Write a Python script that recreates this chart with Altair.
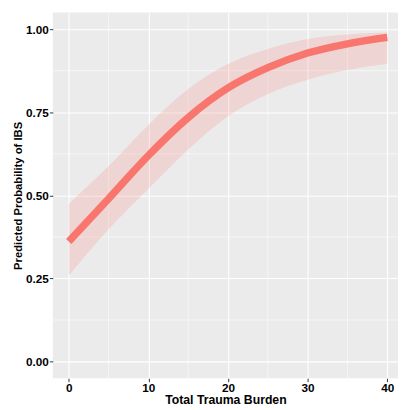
import altair as alt
import pandas as pd

# Values
trauma = [0, 5, 10, 15, 20, 25, 30, 35, 40]
prob_fit = [0.361, 0.490, 0.620, 0.734, 0.823, 0.884, 0.928, 0.956, 0.975]
prob_lower = [0.258, 0.398, 0.520, 0.638, 0.738, 0.805, 0.848, 0.877, 0.896]
prob_upper = [0.474, 0.588, 0.712, 0.820, 0.895, 0.940, 0.970, 0.984, 0.990]

x_major = [0, 10, 20, 30, 40]
x_minor = [5, 15, 25, 35]
y_major = [0.0, 0.25, 0.5, 0.75, 1.0]
y_minor = [0.125, 0.375, 0.625, 0.875]

df = pd.DataFrame({"x": trauma, "fit": prob_fit, "lo": prob_lower, "hi": prob_upper})

FONT = "Liberation Sans"
SALMON = "#F8766D"

xs = alt.Scale(domain=[-2, 41.35], nice=False, zero=False)
ys = alt.Scale(domain=[-0.05, 1.05], nice=False, zero=False)

x_axis = alt.Axis(
    values=x_major, grid=True, gridColor="white", gridWidth=1.1,
    domain=False, tickColor="#333333", tickSize=3.5, tickWidth=1,
    labelFont=FONT, labelFontSize=12, labelFontWeight="bold", labelColor="black",
    labelPadding=1.5, title="Total Trauma Burden", titleFont=FONT,
    titleFontSize=12.5, titleFontWeight="bold", titleColor="black", titlePadding=0,
)
y_axis = alt.Axis(
    values=y_major, format=".2f", grid=True, gridColor="white", gridWidth=1.1,
    domain=False, tickColor="#333333", tickSize=3.5, tickWidth=1,
    labelFont=FONT, labelFontSize=12, labelFontWeight="bold", labelColor="black",
    labelPadding=1, title="Predicted Probability of IBS", titleFont=FONT,
    titleFontSize=11.5, titleFontWeight="bold", titleColor="black", titlePadding=2.5,
)

minor_v = alt.Chart(pd.DataFrame({"x": x_minor})).mark_rule(
    color="white", strokeWidth=0.55
).encode(x=alt.X("x:Q", scale=xs, axis=x_axis))

minor_h = alt.Chart(pd.DataFrame({"y": y_minor})).mark_rule(
    color="white", strokeWidth=0.55
).encode(y=alt.Y("y:Q", scale=ys, axis=y_axis))

band = alt.Chart(df).mark_area(color=SALMON, opacity=0.2, interpolate="monotone").encode(
    x=alt.X("x:Q", scale=xs, axis=x_axis),
    y=alt.Y("lo:Q", scale=ys, axis=y_axis),
    y2="hi:Q",
)

line = alt.Chart(df).mark_line(
    color=SALMON, strokeWidth=7.5, strokeCap="butt", interpolate="monotone"
).encode(
    x=alt.X("x:Q", scale=xs, axis=x_axis),
    y=alt.Y("fit:Q", scale=ys, axis=y_axis),
)

chart = alt.layer(minor_v, minor_h, band, line).properties(
    width=352.25,
    height=373.2,
    autosize=alt.AutoSizeParams(type="none"),
    padding={"left": 45.75, "top": 0.5, "right": 0, "bottom": 28},
    background="white",
).configure_view(fill="#EBEBEB", strokeWidth=0)

chart.save("out.html", embed_options={"renderer": "svg", "actions": False})
